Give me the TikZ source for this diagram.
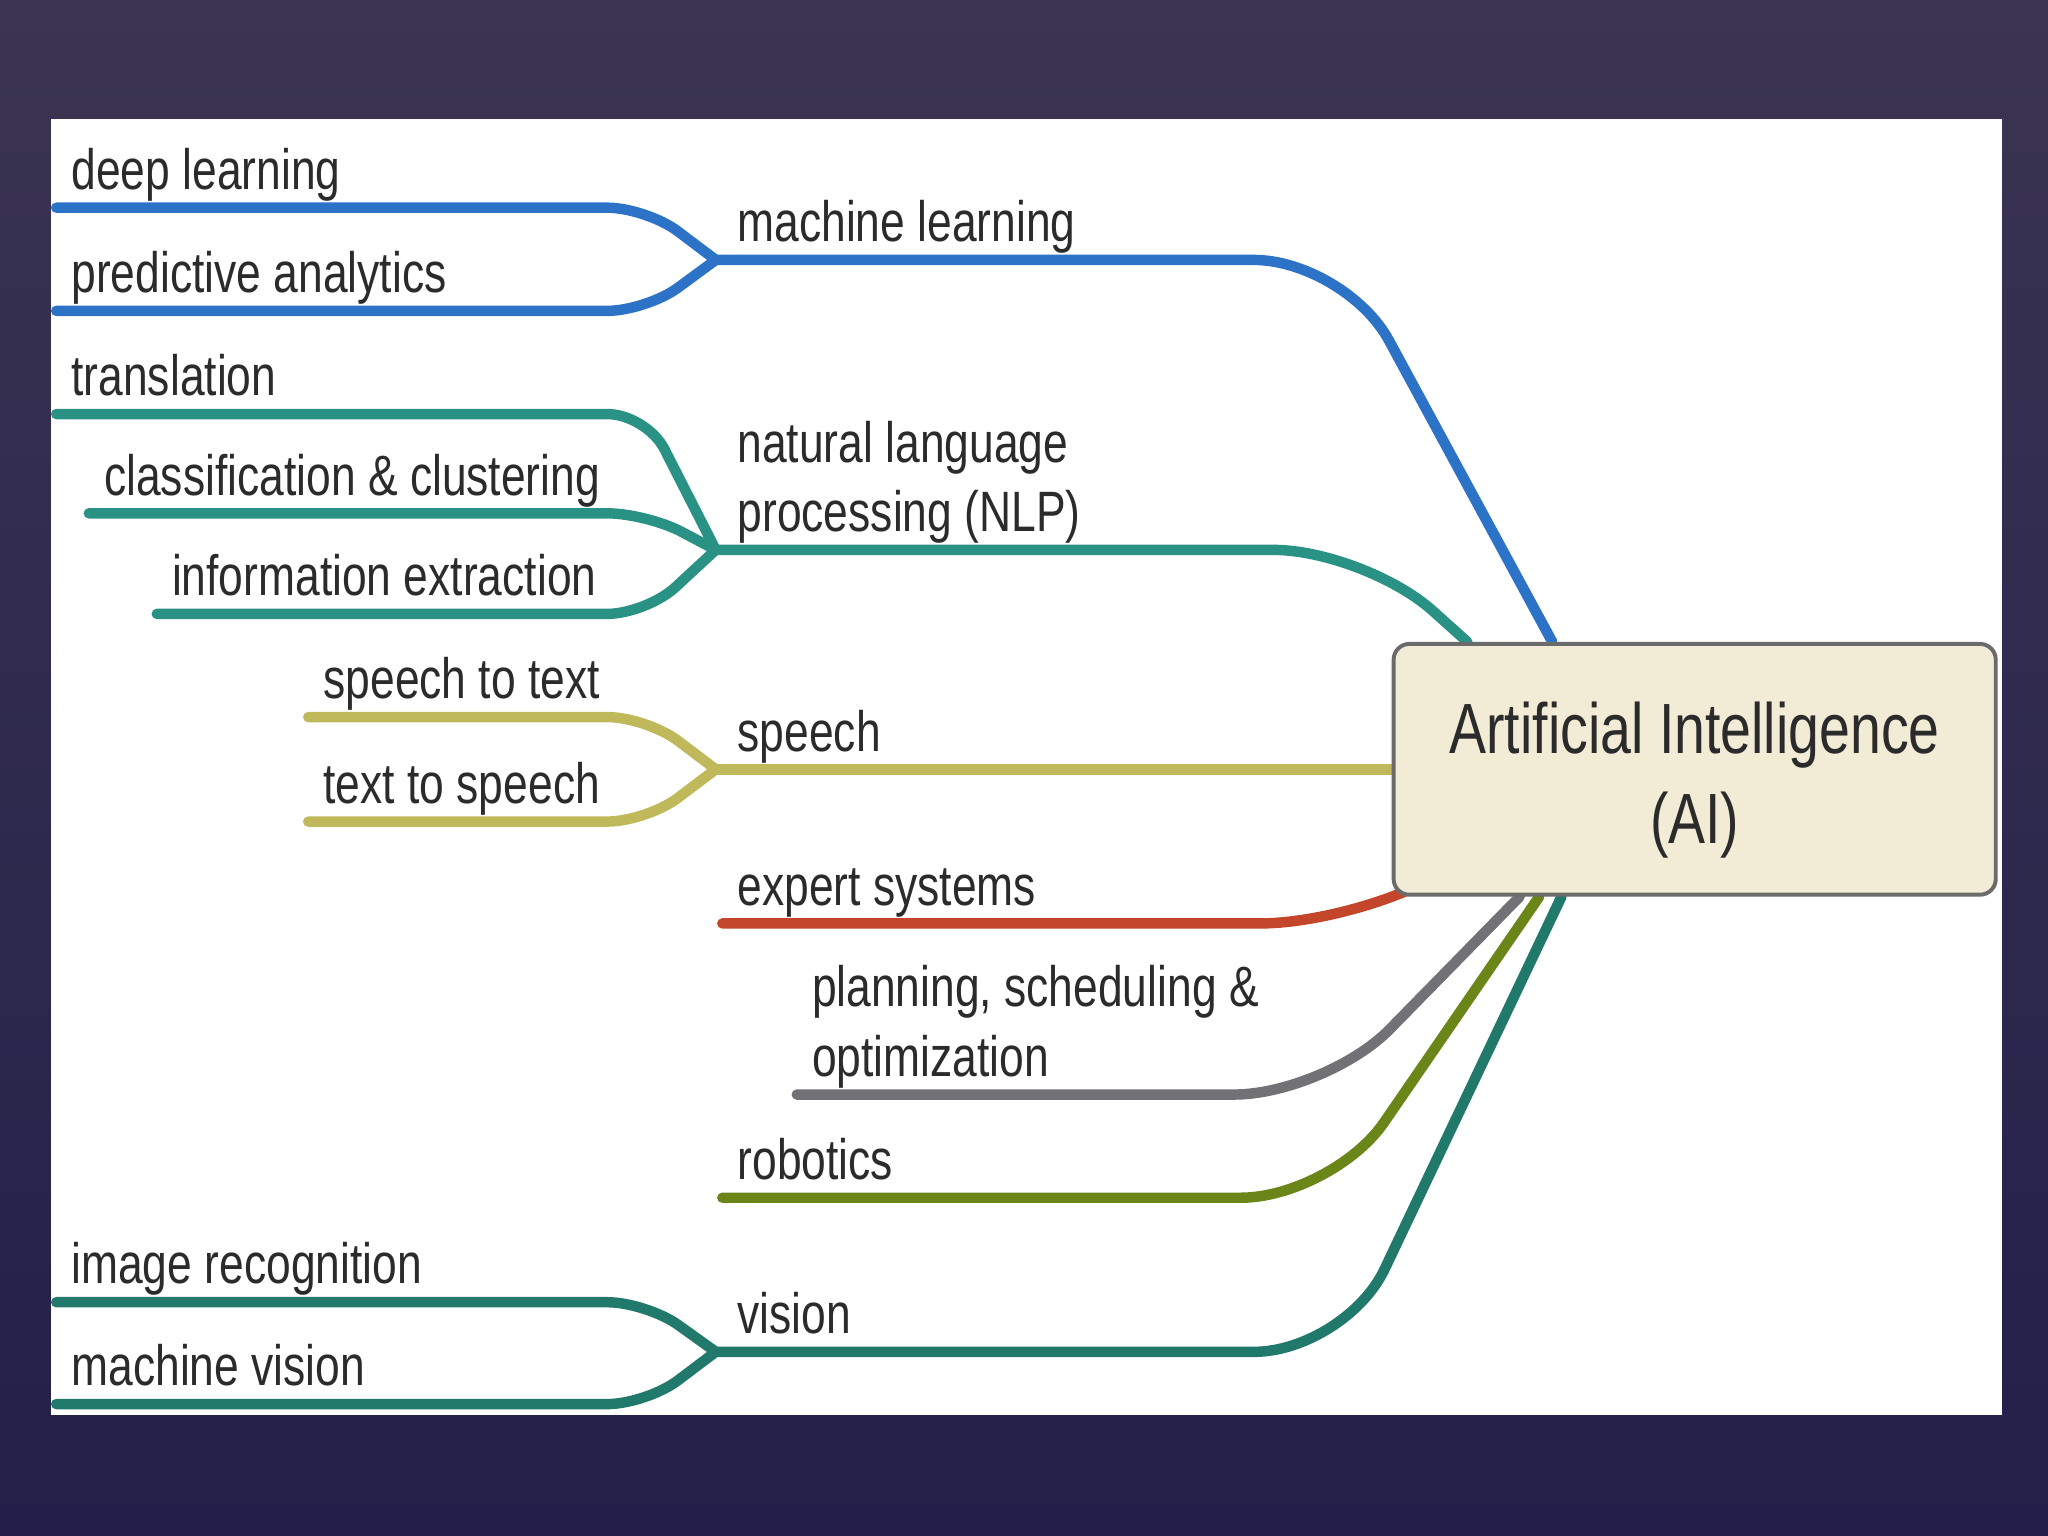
\documentclass[tikz,border=0pt]{standalone}
\usepackage{fontspec}
\setmainfont{Liberation Sans}[FakeStretch=0.78]
\usepackage{xcolor}
\usetikzlibrary{calc}

\definecolor{ink}{HTML}{2B2B2B}
\definecolor{slidetop}{HTML}{3B3452}
\definecolor{slidebottom}{HTML}{22204A}
\definecolor{mlblue}{HTML}{2C73C8}
\definecolor{nlpteal}{HTML}{2A9185}
\definecolor{speechgold}{HTML}{BFB95C}
\definecolor{expertred}{HTML}{C4462A}
\definecolor{plangray}{HTML}{727276}
\definecolor{robogreen}{HTML}{6A8518}
\definecolor{visionteal}{HTML}{21796B}
\definecolor{boxcream}{HTML}{F2ECD6}
\definecolor{boxgray}{HTML}{6B6B6B}

\pgfdeclarelayer{back}
\pgfdeclarelayer{lines}
\pgfsetlayers{back,lines,main}

\begin{document}
\begin{tikzpicture}[x=0.1mm, y=-0.1mm,
    every node/.style={text=ink, inner sep=0pt},
    leaf/.style={anchor=base west, align=left, xshift=1.1mm, yshift=1.4mm, font=\fontsize{12.4}{15.1}\selectfont},
    hub/.style={leaf, xshift=0.5mm},
    twig/.style={line width=0.8mm, line cap=round, line join=round, rounded corners=3mm},
    limb/.style={line width=0.8mm, line cap=round, line join=round, rounded corners=7mm},
    aibox/.style={draw=boxgray, line width=0.3mm, fill=boxcream, rounded corners=1.2mm, minimum width=46.1mm, minimum height=19.2mm, align=center, font=\fontsize{15.5}{19.8}\selectfont}]

    % slide and white panel
    \begin{pgfonlayer}{back}
        \shade[top color=slidetop, bottom color=slidebottom] (0,0) rectangle (1568,1176);
        \fill[white] (39,91) rectangle (1533,1083);
    \end{pgfonlayer}
    \useasboundingbox (0,0) rectangle (1568,1176);

    \node[aibox] (ai) at (1297.5,589) {\rule{0pt}{5.6mm}Artificial Intelligence\\(AI)};

    % forks and starts
    \coordinate (fork) at (495,0);
    \coordinate (mlJ) at (548,199);
    \coordinate (nlpJ) at (548,421);
    \coordinate (spJ) at (548,589);
    \coordinate (visJ) at (548,1035);
    \coordinate (deepS) at (43,159);
    \coordinate (predS) at (43,238);
    \coordinate (transS) at (43,317);
    \coordinate (classS) at (68,393);
    \coordinate (infoS) at (120,470);
    \coordinate (sttS) at (236,549);
    \coordinate (ttsS) at (236,629);
    \coordinate (expS) at (553,707);
    \coordinate (planS) at (610,838);
    \coordinate (roboS) at (553,917);
    \coordinate (imgS) at (43,997);
    \coordinate (mvS) at (43,1075);

    % labels
    \node[leaf] (deep) at (deepS) {deep learning};
    \node[leaf] (pred) at (predS) {predictive analytics};
    \node[hub] (ml) at (mlJ) {machine learning};
    \node[leaf] (trans) at (transS) {translation};
    \node[leaf] (class) at (classS) {classification \& clustering};
    \node[leaf] (info) at (infoS) {information extraction};
    \node[hub] (nlp) at (nlpJ) {natural language\\processing (NLP)};
    \node[leaf] (stt) at (sttS) {speech to text};
    \node[leaf] (tts) at (ttsS) {text to speech};
    \node[hub] (speech) at (spJ) {speech};
    \node[leaf] (expert) at (expS) {expert systems};
    \node[leaf] (plan) at (planS) {planning, scheduling \&\\optimization};
    \node[leaf] (robo) at (roboS) {robotics};
    \node[leaf] (img) at (imgS) {image recognition};
    \node[leaf] (mv) at (mvS) {machine vision};
    \node[hub] (vision) at (visJ) {vision};

    \begin{pgfonlayer}{lines}
        % leaves into their forks
        \draw[twig, mlblue] (deepS) -- (deepS -| fork) -- (mlJ);
        \draw[twig, mlblue] (predS) -- (predS -| fork) -- (mlJ);
        \draw[twig, nlpteal] (transS) -- (transS -| fork) -- (nlpJ);
        \draw[twig, nlpteal] (classS) -- (classS -| fork) -- (nlpJ);
        \draw[twig, nlpteal] (infoS) -- (infoS -| fork) -- (nlpJ);
        \draw[twig, speechgold] (sttS) -- (sttS -| fork) -- (spJ);
        \draw[twig, speechgold] (ttsS) -- (ttsS -| fork) -- (spJ);
        \draw[twig, visionteal] (imgS) -- (imgS -| fork) -- (visJ);
        \draw[twig, visionteal] (mvS) -- (mvS -| fork) -- (visJ);

        % branches into the box
        \draw[limb, mlblue] (mlJ) -- ++(482,0) -- ([xshift=12.3mm]ai.north west);
        \draw[limb, nlpteal] (nlpJ) -- ++(497,0) -- ([xshift=5.8mm]ai.north west);
        \draw[limb, speechgold] (spJ) -- (ai.west);
        \draw[limb, expertred] (expS) -- ++(482,0) -- ([xshift=1.5mm, yshift=0.5mm]ai.south west);
        \draw[limb, plangray] (planS) -- ++(405,0) -- ([xshift=9.8mm]ai.south west);
        \draw[limb, robogreen] (roboS) -- ++(467,0) -- ([xshift=11.3mm]ai.south west);
        \draw[limb, visionteal] (visJ) -- ++(482,0) -- ([xshift=13mm]ai.south west);
    \end{pgfonlayer}
\end{tikzpicture}
\end{document}
